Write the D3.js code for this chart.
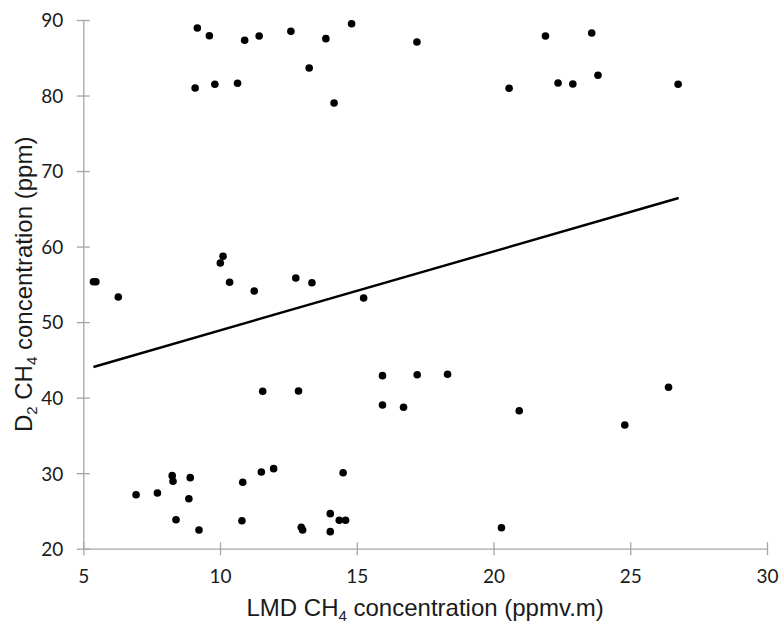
<!DOCTYPE html>
<html>
<head>
<meta charset="utf-8">
<script src="https://cdn.jsdelivr.net/npm/d3@7"></script>
<style>
body{margin:0;background:#fff;}
</style>
</head>
<body>
<div id="chart"></div>
<script>
// LMD CH4 (x) vs D2 CH4 (y)
var lmd = [9.17,9.61,10.90,11.43,12.59,13.87,14.81,9.09,9.81,10.64,13.26,14.17,
    17.20,21.90,23.59,20.57,22.36,22.90,23.82,26.75,
    5.37,5.46,6.28,10.01,10.11,10.35,11.25,12.77,13.36,15.25,
    11.56,12.87,15.94,17.21,18.32,15.94,16.71,20.94,24.80,26.40,
    6.93,7.71,8.25,8.28,8.91,8.86,8.39,9.23,10.83,10.80,11.51,11.96,
    12.97,13.02,14.03,14.03,14.36,14.59,14.50,20.29];
var d2 = [88.94,87.92,87.31,87.88,88.50,87.53,89.51,81.00,81.49,81.62,83.64,79.01,
    87.09,87.88,88.28,80.96,81.66,81.53,82.68,81.49,
    55.35,55.35,53.33,57.83,58.71,55.27,54.12,55.84,55.22,53.19,
    40.84,40.88,42.91,43.04,43.09,39.03,38.72,38.27,36.38,41.37,
    27.15,27.38,29.67,28.93,29.41,26.62,23.84,22.48,28.79,23.71,30.16,30.60,
    22.83,22.48,24.64,22.26,23.76,23.76,30.06,22.78];
// trendline end points
var trendX = [5.37, 26.77];
var trendY = [44.06, 66.43];
var xTicks = [5,10,15,20,25,30];
var yTicks = [20,30,40,50,60,70,80,90];

var width = 780, height = 627;
var mLeft = 83.3, mRight = 767, mTop = 20, mBottom = 548.7;
var axisColor = "#a6a6a6";

var svg = d3.select("#chart").append("svg")
    .attr("width",width)
    .attr("height",height);

var x = d3.scaleLinear().domain([5,30]).range([mLeft,mRight]);
var y = d3.scaleLinear().domain([20,90]).range([mBottom,mTop]);

// x axis (ticks cross the line)
var xAxis = svg.append("g")
    .attr("transform","translate(0,"+mBottom+")")
    .call(d3.axisBottom(x).tickValues(xTicks).tickSize(6.5).tickSizeOuter(0).tickPadding(0));
xAxis.select(".domain").attr("stroke",axisColor).attr("stroke-width",1.3);
xAxis.selectAll(".tick line").attr("stroke",axisColor).attr("stroke-width",1.3).attr("y1",-6.5);
xAxis.selectAll(".tick text")
    .attr("y",34.5).attr("dy",null)
    .attr("fill","#1a1a1a")
    .style("font-family","Lato, 'Open Sans', sans-serif")
    .style("font-size","19px");

var yAxis = svg.append("g")
    .attr("transform","translate("+mLeft+",0)")
    .call(d3.axisLeft(y).tickValues(yTicks).tickSize(6.5).tickSizeOuter(0).tickPadding(0));
yAxis.select(".domain").attr("stroke",axisColor).attr("stroke-width",1.3);
yAxis.selectAll(".tick line").attr("stroke",axisColor).attr("stroke-width",1.3).attr("x1",6.5);
yAxis.selectAll(".tick text")
    .attr("x",-20).attr("dy","0.36em")
    .attr("fill","#1a1a1a")
    .style("font-family","Lato, 'Open Sans', sans-serif")
    .style("font-size","19px");

// trendline
var line = d3.line()
    .x(function(d){return x(d[0]);})
    .y(function(d){return y(d[1]);});
svg.append("path")
    .datum(d3.zip(trendX,trendY))
    .attr("d",line)
    .attr("fill","none")
    .attr("stroke","#000")
    .attr("stroke-width",2.4);

// points
svg.selectAll("circle.pt")
    .data(d3.zip(lmd,d2))
    .enter()
    .append("circle")
    .attr("class","pt")
    .attr("cx",function(d){return x(d[0]);})
    .attr("cy",function(d){return y(d[1]);})
    .attr("r",3.8)
    .attr("fill","#000");

// axis titles
var xt = svg.append("text")
    .attr("x",(mLeft+mRight)/2)
    .attr("y",616)
    .attr("text-anchor","middle")
    .attr("fill","#1a1a1a")
    .style("font-family","'Liberation Sans', Arial, sans-serif")
    .style("font-size","24px");
xt.append("tspan").text("LMD CH");
xt.append("tspan").attr("dy",5).style("font-size","15px").text("4");
xt.append("tspan").attr("dy",-5).text(" concentration (ppmv.m)");

var yt = svg.append("text")
    .attr("transform","translate(32,"+((mTop+mBottom)/2)+") rotate(-90)")
    .attr("text-anchor","middle")
    .attr("fill","#1a1a1a")
    .style("font-family","'Liberation Sans', Arial, sans-serif")
    .style("font-size","24px");
yt.append("tspan").text("D");
yt.append("tspan").attr("dy",5).style("font-size","15px").text("2");
yt.append("tspan").attr("dy",-5).text(" CH");
yt.append("tspan").attr("dy",5).style("font-size","15px").text("4");
yt.append("tspan").attr("dy",-5).text(" concentration (ppm)");
</script>
</body>
</html>
